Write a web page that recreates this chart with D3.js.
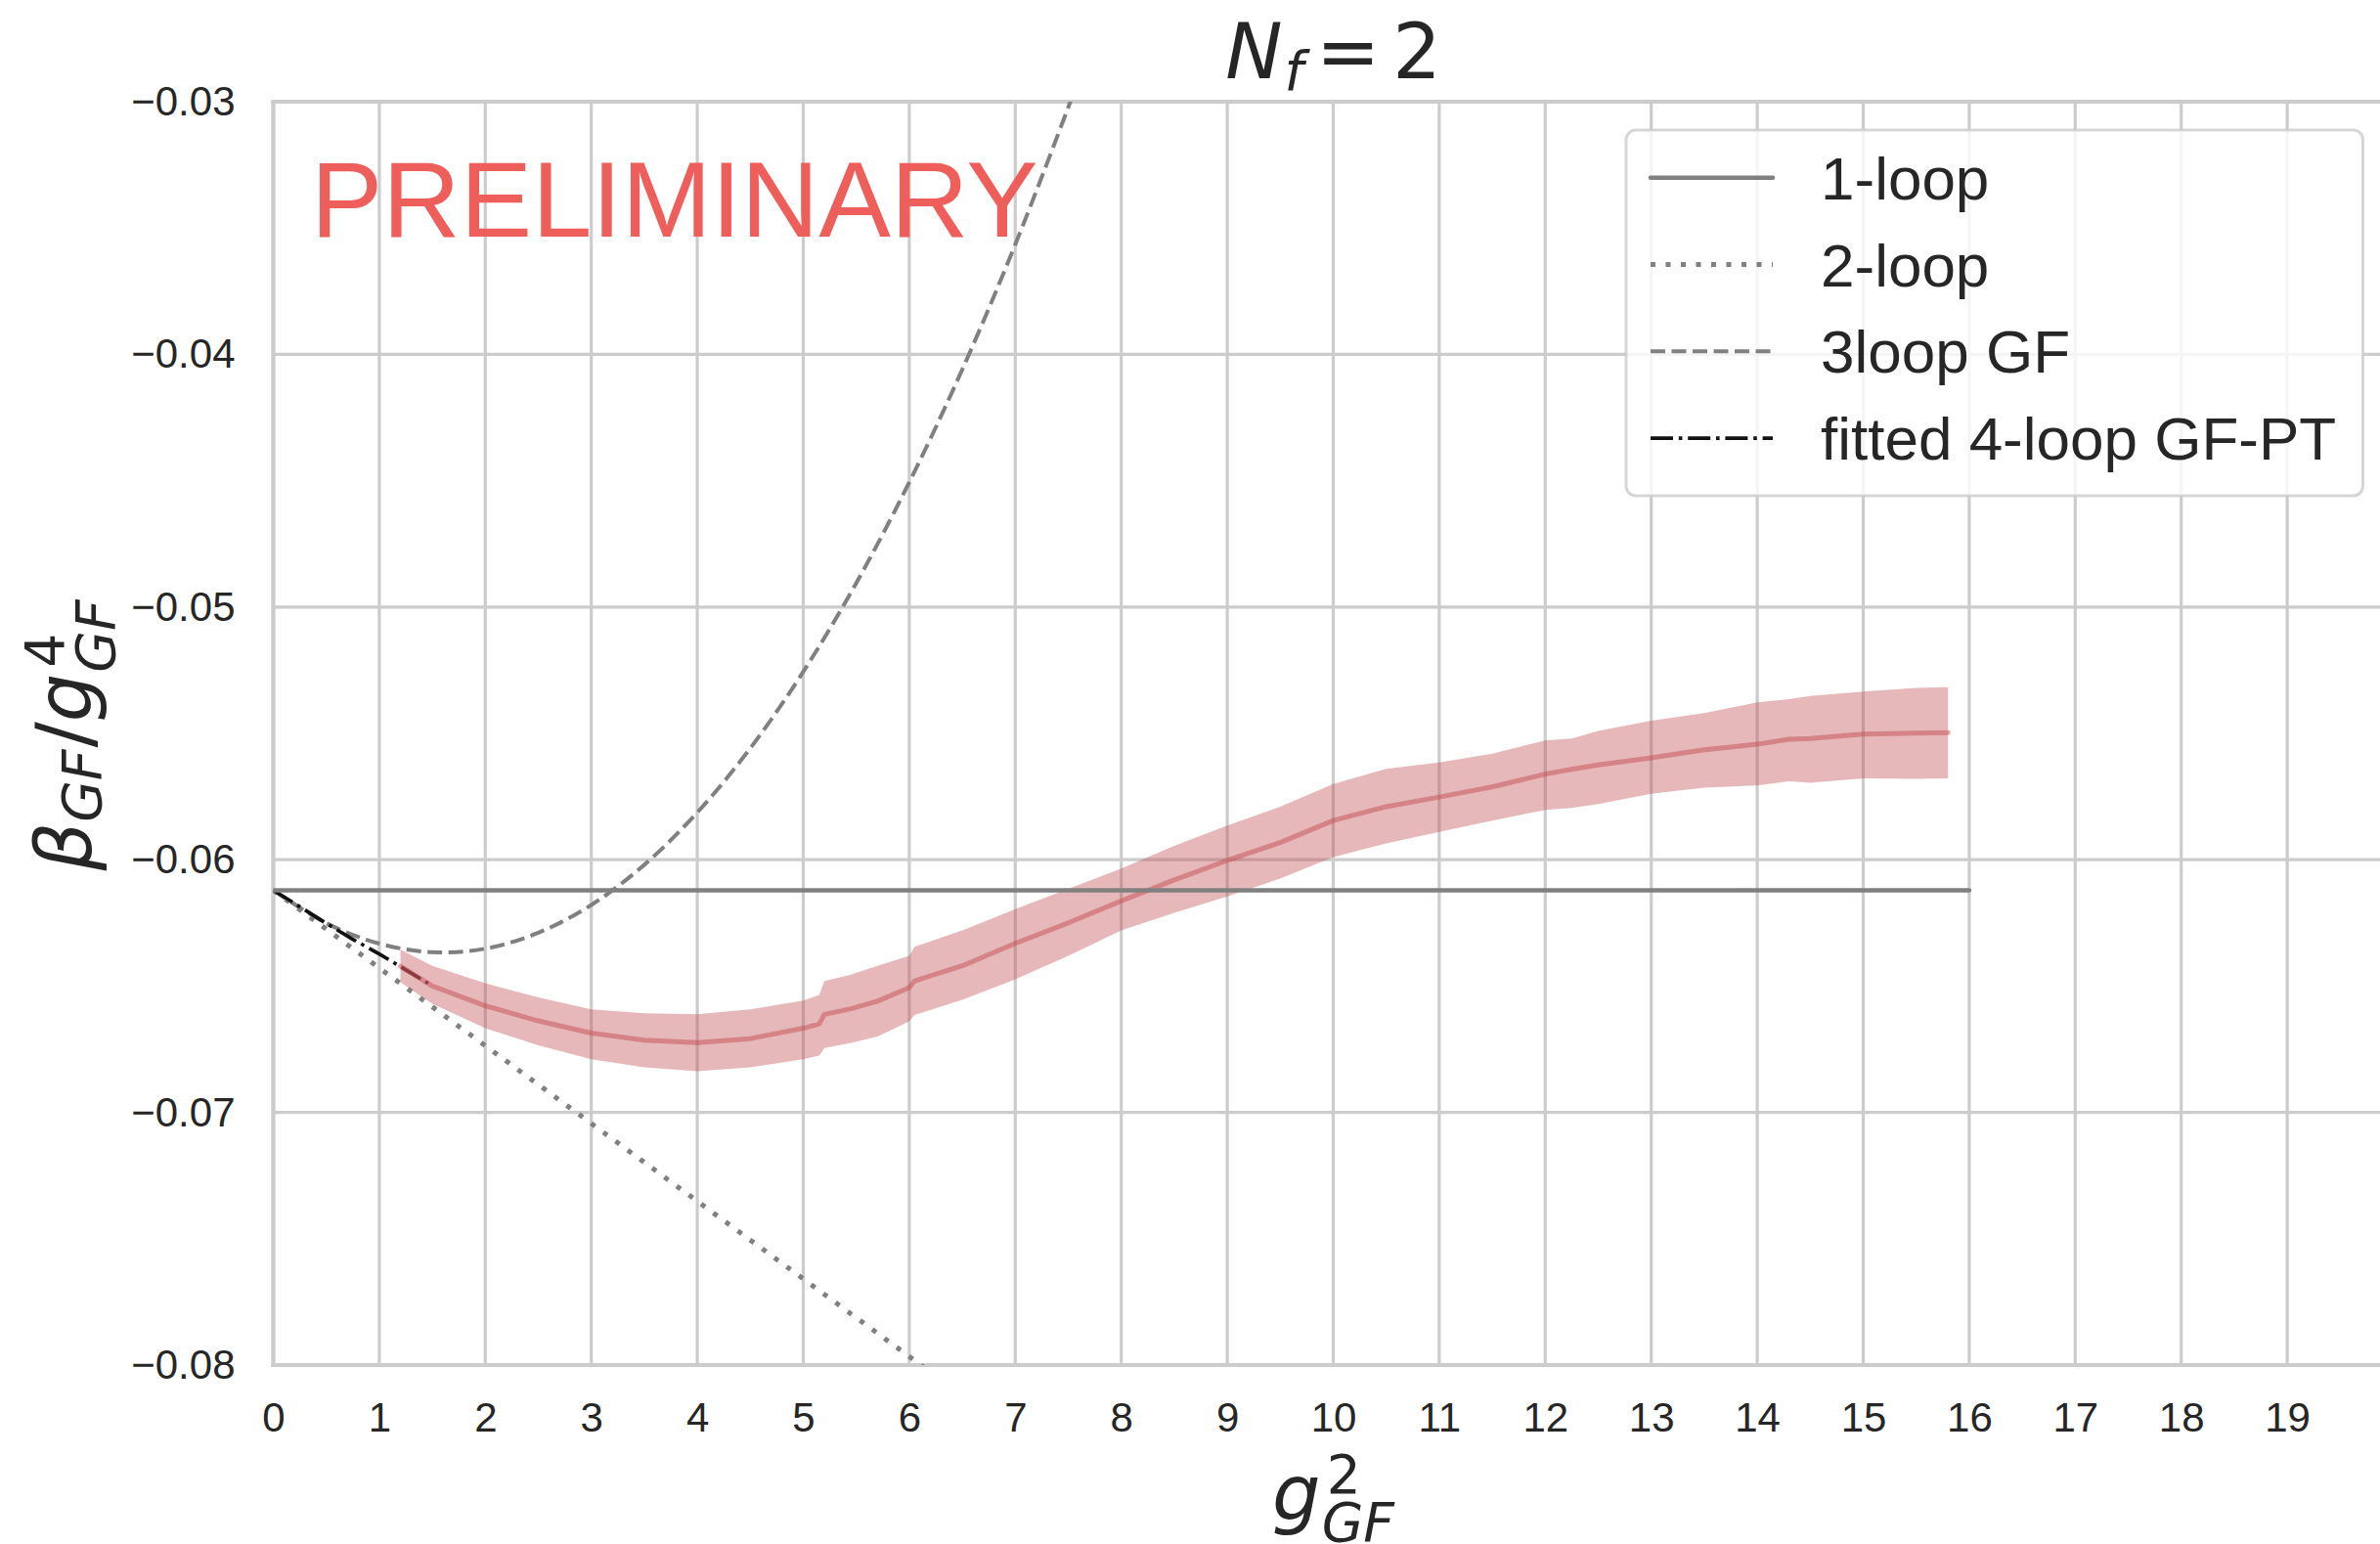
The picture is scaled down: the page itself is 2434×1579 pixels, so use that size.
<!DOCTYPE html>
<html><head><meta charset="utf-8">
<script src="https://cdn.jsdelivr.net/npm/d3@7"></script>
<style>body{margin:0;background:#fff}svg{display:block}</style>
</head><body>
<svg id="c" width="2434" height="1579"></svg>
<script>
// ---------------- data ----------------
const xTicks = [0,1,2,3,4,5,6,7,8,9,10,11,12,13,14,15,16,17,18,19];
const xGrid = [0,1,2,3,4,5,6,7,8,9,10,11,12,13,14,15,16,17,18,19,20];
const yTicks = [-0.08,-0.07,-0.06,-0.05,-0.04,-0.03];

const oneLoopX = [0, 16];
const oneLoopY = [-0.06121, -0.06121];

const twoLoopX = [0, 6.2];
const twoLoopY = [-0.06121, -0.08028];

const threeLoopX = [0,0.5,1,1.5,2,2.5,3,3.5,4,4.5,5,5.5,6,6.5,7,7.5,7.6];
const threeLoopY = [-0.06121,-0.06251,-0.06332,-0.06366,-0.06352,-0.06289,-0.06179,-0.06020,
                    -0.05813,-0.05559,-0.05256,-0.04905,-0.04506,-0.04060,-0.03565,-0.03022,-0.02907];

const fittedX = [0,0.25,0.5,0.75,1.0,1.25,1.46];
const fittedY = [-0.06121,-0.06186,-0.06252,-0.06315,-0.06373,-0.06436,-0.06489];

const bandX   = [1.2,1.5,2.0,2.5,3.0,3.5,4.0,4.5,5.0,5.15,5.2,5.45,5.7,6.0,6.05,6.5,7.0,7.5,8.0,8.5,9.0,9.5,10.0,10.5,11.0,11.5,12.0,12.25,12.5,13.0,13.5,14.0,14.3,14.5,15.0,15.5,15.8];
const bandMid = [-0.06422,-0.0650,-0.06578,-0.06638,-0.06686,-0.06714,-0.06724,-0.06708,-0.06667,-0.06650,-0.06612,-0.06590,-0.06560,-0.06506,-0.06480,-0.06420,-0.06331,-0.06250,-0.06163,-0.06080,-0.06003,-0.05932,-0.05845,-0.05790,-0.05752,-0.05712,-0.05661,-0.05642,-0.05625,-0.05597,-0.05565,-0.05543,-0.05523,-0.05520,-0.05503,-0.05499,-0.05497];
const bandLow = [-0.06485,-0.0657,-0.06667,-0.06735,-0.0679,-0.06822,-0.06837,-0.06822,-0.0679,-0.06775,-0.06745,-0.06725,-0.06700,-0.06640,-0.06615,-0.06555,-0.06473,-0.06380,-0.0628,-0.06210,-0.06145,-0.06075,-0.0599,-0.05935,-0.05890,-0.05845,-0.05803,-0.05795,-0.05780,-0.05739,-0.05715,-0.05706,-0.05690,-0.05695,-0.05678,-0.05680,-0.05678];
const bandHigh= [-0.06355,-0.0642,-0.06489,-0.06545,-0.06592,-0.06608,-0.06612,-0.06592,-0.06557,-0.06535,-0.06480,-0.06455,-0.06420,-0.06380,-0.06345,-0.06280,-0.06196,-0.06115,-0.06035,-0.05945,-0.05865,-0.05790,-0.05700,-0.05640,-0.05615,-0.05580,-0.05528,-0.05520,-0.05490,-0.0545,-0.05420,-0.05377,-0.05365,-0.05352,-0.05335,-0.05320,-0.05317];

const legendLabels = ['1-loop','2-loop','3loop GF','fitted 4-loop GF-PT'];

// ---------------- layout ----------------
const ink = '#262626';
const gridColor = '#cccccc';
const svg = d3.select('#c');
const L = 279.5, R = 2447.5, T = 104, B = 1396;
const x = d3.scaleLinear().domain([0,20]).range([L,R]);
const y = d3.scaleLinear().domain([-0.08,-0.03]).range([B,T]);

svg.append('defs').append('clipPath').attr('id','plot')
  .append('rect').attr('x',L).attr('y',T).attr('width',R-L).attr('height',B-T);

// grid
const grid = svg.append('g');
grid.selectAll('.v').data(xGrid).join('line')
  .attr('x1',d=>x(d)).attr('x2',d=>x(d)).attr('y1',T).attr('y2',B)
  .attr('stroke',gridColor).attr('stroke-width',3.2);
grid.selectAll('.h').data(yTicks).join('line')
  .attr('x1',L).attr('x2',R).attr('y1',d=>y(d)).attr('y2',d=>y(d))
  .attr('stroke',gridColor).attr('stroke-width',3.2);
// spines
const sp = svg.append('g').attr('stroke',gridColor).attr('stroke-width',4.2).attr('stroke-linecap','square');
sp.append('line').attr('x1',L).attr('x2',L).attr('y1',T).attr('y2',B);
sp.append('line').attr('x1',L).attr('x2',R).attr('y1',B).attr('y2',B);
sp.append('line').attr('x1',L).attr('x2',R).attr('y1',T).attr('y2',T);
sp.append('line').attr('x1',R).attr('x2',R).attr('y1',T).attr('y2',B);

// axes
const fmt = d3.format('.2f');
const xa = svg.append('g').attr('transform',`translate(0,${B})`)
  .call(d3.axisBottom(x).tickValues(xTicks).tickSize(0).tickPadding(38).tickFormat(d3.format('d')));
const ya = svg.append('g').attr('transform',`translate(${L},0)`)
  .call(d3.axisLeft(y).tickValues(yTicks).tickSize(0).tickPadding(39).tickFormat(fmt));
[xa,ya].forEach(a=>{
  a.select('.domain').remove();
  a.selectAll('text').attr('font-family',"'Liberation Sans', Arial, sans-serif")
   .attr('font-size',42).attr('fill',ink);
});

// curves
const plot = svg.append('g').attr('clip-path','url(#plot)');
const ln = d3.line().x(d=>x(d[0])).y(d=>y(d[1]));
const zip = (a,b)=>a.map((v,i)=>[v,b[i]]);

plot.append('path').datum(zip(twoLoopX,twoLoopY)).attr('d',ln)
  .attr('fill','none').attr('stroke','#808080').attr('stroke-width',5).attr('stroke-dasharray','5,10.5');
plot.append('path').datum(zip(threeLoopX,threeLoopY)).attr('d',ln.curve(d3.curveCatmullRom))
  .attr('fill','none').attr('stroke','#808080').attr('stroke-width',4).attr('stroke-dasharray','15,6.5');
ln.curve(d3.curveLinear);
plot.append('path').datum(zip(fittedX,fittedY)).attr('d',ln)
  .attr('fill','none').attr('stroke','#111').attr('stroke-width',3.6).attr('stroke-dasharray','23,5.8,3.6,5.8');

const bandData = bandX.map((v,i)=>({x:v,lo:bandLow[i],hi:bandHigh[i],m:bandMid[i]}));
plot.append('path').datum(bandData)
  .attr('d',d3.area().x(d=>x(d.x)).y0(d=>y(d.lo)).y1(d=>y(d.hi)))
  .attr('fill','#c44e52').attr('fill-opacity',0.4);
plot.append('path').datum(bandData)
  .attr('d',d3.line().x(d=>x(d.x)).y(d=>y(d.m)))
  .attr('fill','none').attr('stroke','#c44e52').attr('stroke-opacity',0.5)
  .attr('stroke-width',5).attr('stroke-linecap','round').attr('stroke-linejoin','round');

plot.append('path').datum(zip(oneLoopX,oneLoopY)).attr('d',ln)
  .attr('fill','none').attr('stroke','#808080').attr('stroke-width',4.6).attr('stroke-linecap','round');

// PRELIMINARY
svg.append('text').attr('x',318).attr('y',242).text('PRELIMINARY')
  .attr('font-family',"'Liberation Sans', Arial, sans-serif").attr('font-size',110).attr('fill','#ee5f5b');

// legend
const lg = svg.append('g');
lg.append('rect').attr('x',1663).attr('y',133).attr('width',753.5).attr('height',374).attr('rx',10)
  .attr('fill','#fff').attr('fill-opacity',0.8).attr('stroke','#cccccc').attr('stroke-opacity',0.8).attr('stroke-width',3);
const legStyles = [
  {stroke:'#808080', w:4.6, dash:null, cap:'round'},
  {stroke:'#808080', w:5, dash:'5,10.5', cap:'butt'},
  {stroke:'#808080', w:4, dash:'15,6.5', cap:'butt'},
  {stroke:'#111', w:3.6, dash:'23,5.8,3.6,5.8', cap:'butt'}
];
legendLabels.forEach((lab,i)=>{
  const yy = 181.7 + i*88.8;
  const s = legStyles[i];
  const l = lg.append('line').attr('x1',1688).attr('x2',1813).attr('y1',yy).attr('y2',yy)
    .attr('stroke',s.stroke).attr('stroke-width',s.w).attr('stroke-linecap',s.cap);
  if (s.dash) l.attr('stroke-dasharray',s.dash);
  lg.append('text').attr('x',1862).attr('y',yy+22).text(lab)
    .attr('font-family',"'Liberation Sans', Arial, sans-serif").attr('font-size',62).attr('fill',ink);
});

// math labels: one <text> per label, pieces as absolutely positioned tspans
function mathLabel(g, parts){
  // measure
  const widths = parts.map(p=>{
    const t = g.append('text').text(p.t).attr('font-family',"'DejaVu Sans', sans-serif")
      .attr('font-style',p.italic?'italic':'normal').attr('font-size',p.size);
    const w = t.node().getComputedTextLength();
    t.remove();
    return w;
  });
  let cur = 0, lastStart = 0;
  const starts = parts.map((p,i)=>{
    const s = p.stack ? lastStart + (p.dx||0) : cur + (p.dx||0);
    if(!p.stack) lastStart = s;
    cur = Math.max(cur, s + widths[i]);
    return s;
  });
  const txt = g.append('text').attr('font-family',"'DejaVu Sans', sans-serif").attr('fill',ink);
  parts.forEach((p,i)=>{
    txt.append('tspan').text(p.t).attr('x',starts[i]-cur/2).attr('y',p.dy||0)
      .attr('font-style',p.italic?'italic':'normal').attr('font-size',p.size);
  });
}
const cx = (L+R)/2;
mathLabel(svg.append('g').attr('transform',`translate(${cx},80)`), [
  {t:'N',italic:true,size:78},
  {t:'f',italic:true,size:55,dy:12,dx:2},
  {t:'=',size:78,dx:13},
  {t:'2',size:78,dx:13}
]);
mathLabel(svg.append('g').attr('transform',`translate(${cx},1554)`), [
  {t:'g',italic:true,size:78},
  {t:'2',size:55,dy:-27,dx:6},
  {t:'GF',italic:true,size:55,dy:22,stack:true,dx:-5}
]);
mathLabel(svg.append('g').attr('transform',`translate(93,752) rotate(-90)`), [
  {t:'β',italic:true,size:78},
  {t:'GF',italic:true,size:55,dy:10},
  {t:'/',size:78,dx:2},
  {t:'g',italic:true,size:78},
  {t:'4',size:55,dy:-28,dx:6},
  {t:'GF',italic:true,size:55,dy:24,stack:true,dx:-5}
]);
</script>
</body></html>
